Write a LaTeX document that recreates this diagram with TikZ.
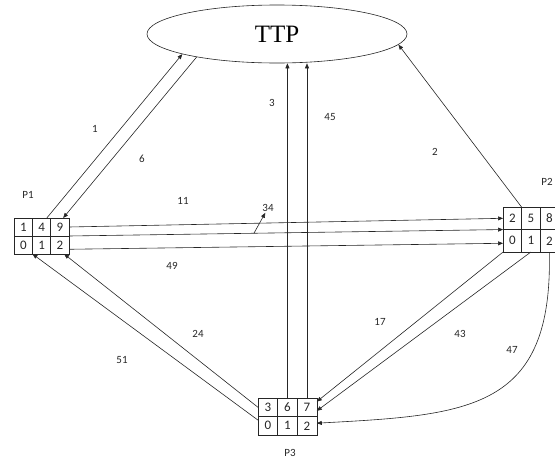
\documentclass[tikz,border=0pt]{standalone}
\usepackage{fontspec}
\setmainfont{Carlito}
\newfontfamily\ttpfont{Liberation Serif}
\usetikzlibrary{arrows.meta,shapes.geometric}
\definecolor{ink}{HTML}{262626}
\tikzset{
  cell/.style 2 args={draw=ink,line width=0.6pt,minimum width=#1,minimum height=#2,
        inner sep=0pt,outer sep=0pt,font=\fontsize{13}{13}\selectfont,text=ink},
  lbl/.style={inner sep=1pt,font=\fontsize{11}{11}\selectfont,text=ink},
  msg/.style={draw=ink,line width=0.6pt,-{Triangle[length=5pt,width=4pt]}}
}
\begin{document}
\begin{tikzpicture}[x=1pt,y=-1pt]
  \useasboundingbox (0,0) rectangle (555,461);
  % trusted third party
  \node[ellipse,draw=ink,line width=0.6pt,minimum width=260pt,minimum height=58pt,
        inner sep=0pt,font=\ttpfont\fontsize{25}{25}\selectfont] (ttp) at (277,34) {TTP};
  % tables of the parties
  \foreach \v [count=\i] in {1,4,9} \node[cell={18.3pt}{18pt}] (p1-1-\i) at ({5+18.3*\i},227) {\v};
  \foreach \v [count=\i] in {0,1,2} \node[cell={18.3pt}{18pt}] (p1-2-\i) at ({5+18.3*\i},245) {\v};
  \foreach \v [count=\i] in {2,5,8} \node[cell={18.5pt}{22.5pt}] (p2-1-\i) at ({493.8+18.5*\i},218.3) {\v};
  \foreach \v [count=\i] in {0,1,2} \node[cell={18.5pt}{22.5pt}] (p2-2-\i) at ({493.8+18.5*\i},240.8) {\v};
  \foreach \v [count=\i] in {3,6,7} \node[cell={19.6pt}{18.5pt}] (p3-1-\i) at ({248.2+19.6*\i},407.3) {\v};
  \foreach \v [count=\i] in {0,1,2} \node[cell={19.6pt}{18.5pt}] (p3-2-\i) at ({248.2+19.6*\i},425.8) {\v};
  \node[lbl] (np1) at (28,195) {P1};
  \node[lbl] (np2) at (547,182) {P2};
  \node[lbl] (np3) at (290,453) {P3};
  % messages
  \draw[msg] (p1-1-2.60) -- (ttp.192);
  \draw[msg] (ttp.196) -- (p1-1-3.70);
  \draw[msg] (p3-1-2.north) -- (p3-1-2.north |- ttp.south);
  \draw[msg] (p3-1-3.north) -- (p3-1-3.north |- ttp.south);
  \draw[msg] (p2-1-2.north west) -- (ttp.-5);
  \draw[msg] (p1-1-3.east) -- (p2-1-1.west);
  \draw[msg] (p1-1-3.south east) -- node[pos=0.426,coordinate] (m34) {} (p2-2-1.north west);
  \draw[msg] (p1-2-3.-25) -- (p2-2-1.-165);
  \draw[msg] (p2-2-1.south west) -- (p3-1-3.30);
  \draw[msg] (p2-2-2.south) -- (p3-1-3.-20);
  \draw[msg] (p2-2-3.south) .. controls (553,410) and (470,415) .. (p3-2-3.15);
  \draw[msg] (p3-1-1.west) -- (p1-2-3.-65);
  \draw[msg] (p3-2-1.150) -- (p1-2-1.south east);
  % labels
  \node[lbl] (l1) at (95,129) {1};
  \node[lbl] (l6) at (142,159) {6};
  \node[lbl] (l3) at (272,103) {3};
  \node[lbl] (l45) at (330,117) {45};
  \node[lbl] (l2) at (435,152) {2};
  \node[lbl] (l11) at (183,201) {11};
  \node[lbl] (l34) at (268,208) {34};
  \node[lbl] (l49) at (172,266) {49};
  \node[lbl] (l24) at (198,334) {24};
  \node[lbl] (l51) at (122,360) {51};
  \node[lbl] (l17) at (380,322) {17};
  \node[lbl] (l43) at (460,334) {43};
  \node[lbl] (l47) at (512,350) {47};
  \draw[msg] (m34) -- (l34);
\end{tikzpicture}
\end{document}
